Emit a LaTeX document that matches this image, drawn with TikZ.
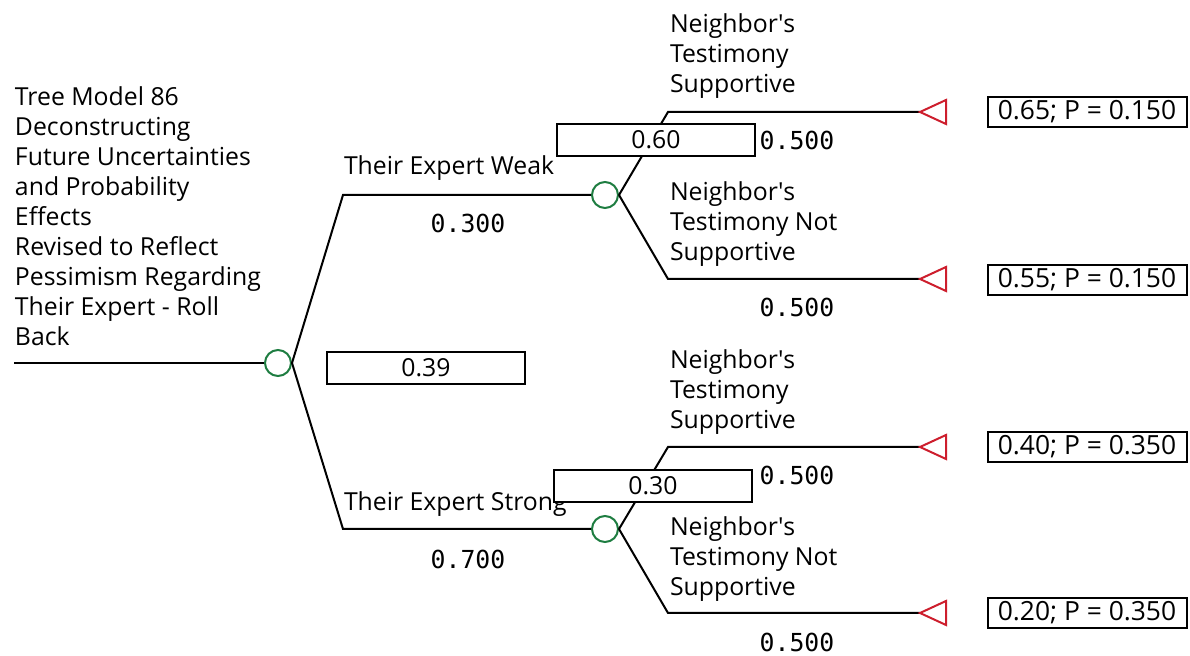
\documentclass[tikz,border=0pt]{standalone}
\usepackage{fontspec}
\setmainfont{Open Sans}
\newfontfamily\probfont{DejaVu Sans Mono}
\usetikzlibrary{positioning}
\definecolor{chancegreen}{RGB}{30,125,65}
\definecolor{endred}{RGB}{205,30,45}
\newcommand{\nb}{Neighbor\textquotesingle s}

\begin{document}
\begin{tikzpicture}
    [x=0.5pt, y=-0.5pt, line width=1pt,
     every node/.style={font=\fontsize{12.4}{15}\selectfont},
     chance/.style={circle, draw=chancegreen, minimum size=13pt, inner sep=0pt, fill=white},
     valbox/.style={draw, fill=white, minimum width=99pt, minimum height=16pt, inner sep=0pt},
     endbox/.style={draw, fill=white, minimum width=99.5pt, minimum height=15pt, inner sep=0pt,
                    font=\fontsize{13.2}{15}\selectfont},
     endtri/.style={draw=endred, line join=miter},
     lbl/.style={anchor=north west, align=left, inner sep=0pt},
     prob/.style={font=\probfont\fontsize{12.4}{15}\selectfont, inner sep=0pt}]
    \useasboundingbox (0,0) rectangle (1190,656);

    % title
    \node[lbl] (title) at (14,86) {Tree Model 86\\Deconstructing\\Future Uncertainties\\and Probability\\Effects\\Revised to Reflect\\Pessimism Regarding\\Their Expert - Roll\\Back};

    % chance nodes
    \node[chance] (c0) at (278,363) {};
    \node[chance] (c1) at (605,195) {};
    \node[chance] (c2) at (605,529) {};

    % corners and ends
    \coordinate (start) at (14,363);
    \coordinate (k1) at (343,195);
    \coordinate (k2) at (343,529);
    \coordinate (m1) at (668,112);
    \coordinate (m2) at (668,279);
    \coordinate (m3) at (668,447);
    \coordinate (m4) at (668,613);
    \coordinate (t1) at (920,112);
    \coordinate (t2) at (920,279);
    \coordinate (t3) at (920,447);
    \coordinate (t4) at (920,613);

    \draw (start) -- (c0);
    \draw (c0.east) -- (k1) -- (c1);
    \draw (c0.east) -- (k2) -- (c2);
    \foreach \from/\mid/\to in {c1/m1/t1,c1/m2/t2,c2/m3/t3,c2/m4/t4}
        \draw (\from.east) -- (\mid) -- (\to);
    \foreach \t in {t1,t2,t3,t4}
        \draw[endtri] (\t) -- ++(26,-12) -- ++(0,24) -- cycle;

    % branch labels
    \node[lbl] (w) at (343,155) {Their Expert Weak};
    \node[lbl] (s) at (343,491) {Their Expert Strong};
    \node[prob] (pw) at (468,223) {0.300};
    \node[prob] (ps) at (468,559) {0.700};
    \node[lbl] (n1) at (669,13) {\nb\\Testimony\\Supportive};
    \node[lbl] (n2) at (669,181) {\nb\\Testimony Not\\Supportive};
    \node[lbl] (n3) at (669,349) {\nb\\Testimony\\Supportive};
    \node[lbl] (n4) at (669,516) {\nb\\Testimony Not\\Supportive};
    \node[prob] (p1) at (797,140) {0.500};
    \node[prob] (p2) at (797,307) {0.500};
    \node[prob] (p3) at (797,475) {0.500};
    \node[prob] (p4) at (797,642) {0.500};

    % values
    \node[valbox] (v0) at (426,368) {0.39};
    \node[valbox] (v1) at (656,140) {0.60};
    \node[valbox] (v2) at (653,486) {0.30};
    \node[endbox] (e1) at (1087,112) {0.65; P = 0.150};
    \node[endbox] (e2) at (1087,280) {0.55; P = 0.150};
    \node[endbox] (e3) at (1087,447) {0.40; P = 0.350};
    \node[endbox] (e4) at (1087,613) {0.20; P = 0.350};
\end{tikzpicture}
\end{document}
